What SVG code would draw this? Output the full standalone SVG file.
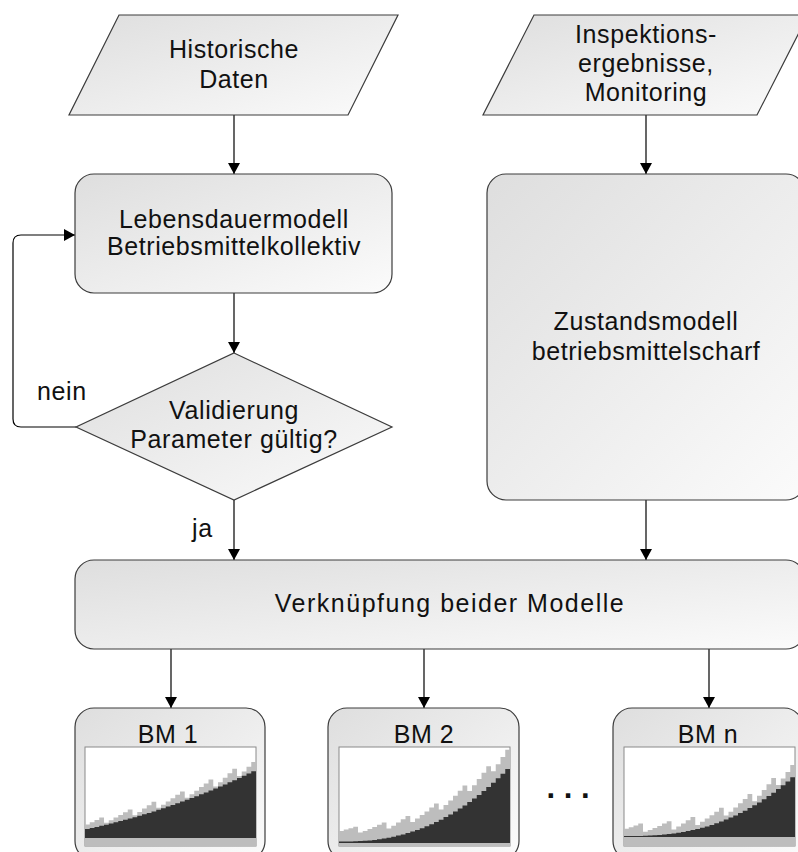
<svg xmlns="http://www.w3.org/2000/svg" width="798" height="852" viewBox="0 0 798 852">
<defs>
<linearGradient id="fill" x1="0" y1="0" x2="1" y2="1">
<stop offset="0" stop-color="#dedede"/>
<stop offset="1" stop-color="#fbfbfb"/>
</linearGradient>
<marker id="arr" viewBox="0 0 11 12" markerWidth="11" markerHeight="12" refX="11" refY="6" orient="auto" markerUnits="userSpaceOnUse">
<path d="M0,0 L11,6 L0,12 Z" fill="#000"/>
</marker>
</defs>
<style>
.shape{fill:url(#fill);stroke:#3c3c3c;stroke-width:1.2}
.t{font-family:"Liberation Sans",Arial,sans-serif;font-size:25px;letter-spacing:0.6px;fill:#111;text-anchor:middle}
.lbl{font-family:"Liberation Sans",Arial,sans-serif;font-size:25px;letter-spacing:0.6px;fill:#111}
.con{fill:none;stroke:#000;stroke-width:1.2;marker-end:url(#arr)}
.chartbg{fill:#fff;stroke:#8a8a8a;stroke-width:1}
.lg{fill:#bdbdbd}
.dk{fill:#333}
</style>
<rect width="798" height="852" fill="#fff"/>

<g id="connectors">
<path class="con" d="M234,115 V174"/>
<path class="con" d="M646,115 V174"/>
<path class="con" d="M234,293 V353"/>
<path class="con" d="M76,427 H21 Q13,427 13,419 V243 Q13,235 21,235 H75"/>
<path class="con" d="M234,500 V560"/>
<path class="con" d="M646,500 V560"/>
<path class="con" d="M171,649 V708"/>
<path class="con" d="M424,649 V708"/>
<path class="con" d="M709,649 V708"/>
<text class="lbl" x="37" y="400">nein</text>
<text class="lbl" x="192" y="537">ja</text>
</g>

<g id="historische-daten">
<path class="shape" d="M119,15 H398 L348,115 H69 Z"/>
<text class="t" x="234" y="58">Historische</text>
<text class="t" x="234" y="88">Daten</text>
</g>

<g id="inspektion">
<path class="shape" d="M534,15 H808 L757,115 H483 Z"/>
<text class="t" x="646" y="43">Inspektions-</text>
<text class="t" x="646" y="72">ergebnisse,</text>
<text class="t" x="646" y="101">Monitoring</text>
</g>

<g id="lebensdauermodell">
<rect class="shape" x="75" y="174" width="317" height="119" rx="19" ry="19"/>
<text class="t" x="234" y="228">Lebensdauermodell</text>
<text class="t" x="234" y="255">Betriebsmittelkollektiv</text>
</g>

<g id="zustandsmodell">
<rect class="shape" x="487" y="174" width="318" height="326" rx="19" ry="19"/>
<text class="t" x="646" y="330">Zustandsmodell</text>
<text class="t" x="646" y="360">betriebsmittelscharf</text>
</g>

<g id="validierung">
<path class="shape" d="M234,353 L392,427 L234,500 L76,427 Z"/>
<text class="t" x="234" y="419">Validierung</text>
<text class="t" x="234" y="448">Parameter gültig?</text>
</g>

<g id="verknuepfung">
<rect class="shape" x="75" y="560" width="730" height="89" rx="19" ry="19"/>
<text class="t" x="450" y="612" style="letter-spacing:1.5px">Verknüpfung beider Modelle</text>
</g>

<g id="bm1">
<rect class="shape" x="75" y="708" width="190" height="152" rx="19" ry="19"/>
<text class="t" x="168" y="743">BM 1</text>
<g transform="translate(85,747)">
<rect class="chartbg" x="0" y="0" width="171" height="99"/>
<path class="lg" d="M0,99V77.6H4.75V75.3H9.5V72.9H14.25V70.5H19V75.7H23.75V73.2H28.5V70.6H33.25V68H38V65.3H42.75V62.5H47.5V68.2H52.25V65H57V61.6H61.75V58.3H66.5V54.8H71.25V60.8H76V57.7H80.75V54.4H85.5V51.2H90.25V47.8H95V44.4H99.75V50.8H104.5V47.3H109.25V43.8H114V40.1H118.75V36.4H123.5V32.6H128.25V39.5H133V35.2H137.75V30.8H142.5V26.3H147.25V21.8H152V29H156.75V24.4H161.5V19.7H166.25V14.9H171V99Z"/>
<path class="dk" d="M0,91V82H4.75V81H9.5V79.9H14.25V78.8H19V77.7H23.75V76.5H28.5V75.3H33.25V74.1H38V72.8H42.75V71.5H47.5V70.2H52.25V68.8H57V67.3H61.75V65.9H66.5V64.4H71.25V62.8H76V61.3H80.75V59.6H85.5V58H90.25V56.3H95V54.6H99.75V52.8H104.5V51H109.25V49.2H114V47.3H118.75V45.4H123.5V43.5H128.25V41.5H133V39.5H137.75V37.4H142.5V35.3H147.25V33.2H152V31H156.75V28.8H161.5V26.6H166.25V24.3H171V91Z"/>
</g>
</g>

<g id="bm2">
<rect class="shape" x="328" y="708" width="191" height="152" rx="19" ry="19"/>
<text class="t" x="424" y="743">BM 2</text>
<g transform="translate(339,747)">
<rect class="chartbg" x="0" y="0" width="171" height="99"/>
<path class="lg" d="M0,99V84.1H4.75V82.6H9.5V81.2H14.25V79.7H19V85.6H23.75V83.9H28.5V82H33.25V80H38V77.8H42.75V75.5H47.5V81.6H52.25V78.7H57V75.6H61.75V72.3H66.5V69H71.25V74.9H76V71.6H80.75V68.1H85.5V64.5H90.25V60.6H95V56.6H99.75V62.4H104.5V57.9H109.25V53.5H114V48.7H118.75V43.7H123.5V38.6H128.25V44.1H133V38.2H137.75V32.1H142.5V25.7H147.25V19.2H152V24.2H156.75V17.2H161.5V10H166.25V2.7H171V99Z"/>
<path class="dk" d="M0,96V94.5H9.5V94.4H14.25V94.3H19V94.1H23.75V93.8H28.5V93.4H33.25V92.9H38V92.2H42.75V91.5H47.5V90.7H52.25V89.7H57V88.6H61.75V87.4H66.5V86.1H71.25V84.6H76V83H80.75V81.2H85.5V79.3H90.25V77.2H95V75H99.75V72.7H104.5V70.1H109.25V67.5H114V64.6H118.75V61.6H123.5V58.4H128.25V55.1H133V51.6H137.75V47.9H142.5V44H147.25V40H152V35.7H156.75V31.3H161.5V26.8H166.25V22H171V96Z"/>
</g>
</g>

<g id="bmn">
<rect class="shape" x="613" y="708" width="190" height="152" rx="19" ry="19"/>
<text class="t" x="708" y="743">BM n</text>
<g transform="translate(624,747)">
<rect class="chartbg" x="0" y="0" width="171" height="99"/>
<path class="lg" d="M0,99V81.8H4.75V80.2H9.5V78.5H14.25V76.6H19V84.7H23.75V82.9H28.5V80.9H33.25V78.9H38V76.6H42.75V74.3H47.5V82.4H52.25V79.6H57V76.5H61.75V73.3H66.5V69.9H71.25V77.9H76V74.8H80.75V71.6H85.5V68.2H90.25V64.7H95V60.8H99.75V68.6H104.5V64.7H109.25V60.5H114V56.3H118.75V51.9H123.5V46.9H128.25V54.3H133V48.8H137.75V43.1H142.5V37.2H147.25V31H152V38.1H156.75V31.6H161.5V25H166.25V18.1H171V99Z"/>
<path class="dk" d="M0,90V89H14.25V88.9H19V88.7H23.75V88.6H28.5V88.3H33.25V88H38V87.5H42.75V87H47.5V86.4H52.25V85.8H57V85H61.75V84.1H66.5V83.1H71.25V81.9H76V80.7H80.75V79.4H85.5V77.9H90.25V76.3H95V74.5H99.75V72.6H104.5V70.6H109.25V68.4H114V66.1H118.75V63.7H123.5V61.1H128.25V58.3H133V55.4H137.75V52.3H142.5V49.1H147.25V45.7H152V42.1H156.75V38.3H161.5V34.4H166.25V30.3H171V90Z"/>
</g>
</g>

<g id="ellipsis">
<text x="568" y="798" font-family="'Liberation Sans',Arial,sans-serif" font-size="31" font-weight="bold" text-anchor="middle" fill="#111">. . .</text>
</g>
</svg>
